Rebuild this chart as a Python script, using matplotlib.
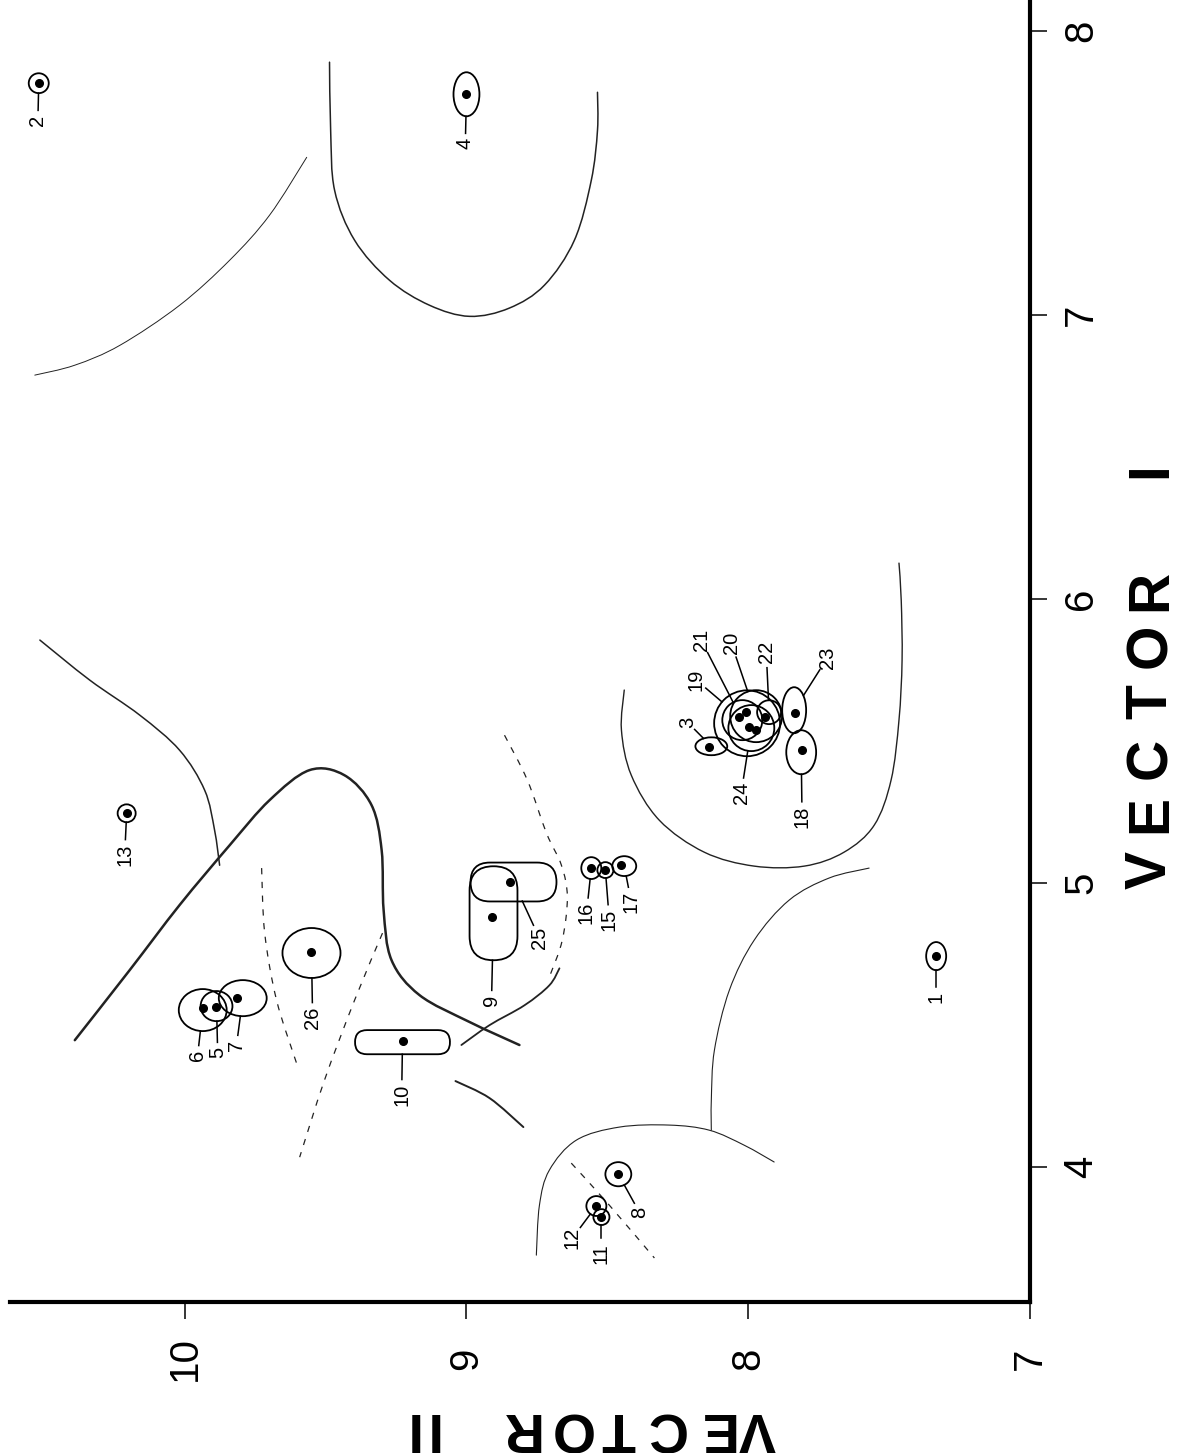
import numpy as np
import matplotlib
matplotlib.use("Agg")
import matplotlib.pyplot as plt
from matplotlib.patches import Ellipse, FancyBboxPatch, PathPatch
from matplotlib.path import Path

plt.rcParams['font.family'] = ['Liberation Sans', 'DejaVu Sans']

# -----------------------------
# points: (Vector II, Vector I)
# -----------------------------
point_ids = ["1", "2", "3", "4", "5", "6", "7", "8", "9", "10", "11", "12", "13",
             "15", "16", "17", "18", "19", "20", "21", "22", "23", "24", "25", "26"]
vector_ii = [7.333, 10.518, 8.138, 9.000, 9.890, 9.936, 9.816, 8.461, 8.911, 9.227,
             8.521, 8.539, 10.206, 8.507, 8.557, 8.450, 7.809, 7.996, 8.007, 8.032,
             7.940, 7.833, 7.972, 8.844, 9.550]
vector_i = [4.743, 7.817, 5.479, 7.778, 4.563, 4.560, 4.595, 3.975, 4.880, 4.444,
            3.824, 3.863, 5.246, 5.046, 5.053, 5.063, 5.468, 5.549, 5.602, 5.585,
            5.585, 5.599, 5.539, 5.004, 4.757]

# ring around each point (centre, width, height, shape)
ring_ii = [7.333, 10.518, 8.131, 9.000, 9.887, 9.936, 9.794, 8.461, 8.904, 9.227,
           8.521, 8.539, 10.206, 8.507, 8.557, 8.440, 7.812, 8.004, 7.972, 8.021,
           7.926, 7.837, 7.989, 8.833, 9.550]
ring_i = [4.743, 7.817, 5.482, 7.778, 4.567, 4.553, 4.595, 3.975, 4.894, 4.440,
          3.824, 3.863, 5.246, 5.046, 5.053, 5.060, 5.461, 5.563, 5.588, 5.574,
          5.602, 5.609, 5.546, 5.004, 4.754]
ring_w = [0.071, 0.071, 0.113, 0.092, 0.113, 0.170, 0.170, 0.092, 0.170, 0.337,
          0.057, 0.071, 0.064, 0.057, 0.071, 0.085, 0.106, 0.234, 0.184, 0.142,
          0.085, 0.085, 0.163, 0.305, 0.206]
ring_h = [0.099, 0.070, 0.063, 0.155, 0.106, 0.148, 0.127, 0.085, 0.331, 0.085,
          0.056, 0.070, 0.063, 0.056, 0.077, 0.070, 0.155, 0.232, 0.183, 0.141,
          0.084, 0.162, 0.162, 0.137, 0.176]
ring_shape = ["e", "e", "e", "e", "e", "e", "e", "e", "s", "s",
              "e", "e", "e", "e", "e", "e", "e", "e", "e", "e",
              "e", "e", "e", "s", "e"]

# label positions
label_ii = [7.333, 10.521, 8.216, 9.004, 9.883, 9.954, 9.816, 8.387, 8.911, 9.230,
            8.521, 8.624, 10.213, 8.493, 8.574, 8.415, 7.809, 8.184, 8.060, 8.167,
            7.936, 7.720, 8.025, 8.741, 9.546]
label_i = [4.599, 7.687, 5.567, 7.606, 4.405, 4.394, 4.430, 3.842, 4.588, 4.254,
           3.697, 3.750, 5.099, 4.870, 4.894, 4.933, 5.232, 5.715, 5.845, 5.856,
           5.813, 5.792, 5.317, 4.806, 4.525]

# -----------------------------
# boundary curves: (Vector II, Vector I)
# -----------------------------
curve_a = [(9.567, 7.556), (9.699, 7.352), (9.840, 7.194), (10.018, 7.035),
           (10.230, 6.894), (10.390, 6.824), (10.532, 6.789)]
curve_b = [(9.486, 7.891), (9.482, 7.651), (9.468, 7.440), (9.397, 7.264),
           (9.273, 7.123), (9.131, 7.035), (8.989, 6.996), (8.848, 7.025),
           (8.723, 7.106), (8.617, 7.264), (8.557, 7.475), (8.535, 7.651),
           (8.535, 7.785)]
curve_c = [(10.514, 5.856), (10.337, 5.715), (10.160, 5.592), (10.018, 5.468),
           (9.929, 5.327), (9.894, 5.187), (9.876, 5.063)]
curve_d = [(10.390, 4.447), (10.195, 4.694), (10.018, 4.923), (9.840, 5.134),
           (9.699, 5.292), (9.557, 5.398), (9.433, 5.380), (9.337, 5.275),
           (9.301, 5.116), (9.294, 4.905), (9.266, 4.729), (9.167, 4.606),
           (8.989, 4.511), (8.812, 4.430)]
curve_e = [(9.018, 4.430), (8.918, 4.500), (8.794, 4.570), (8.706, 4.640),
           (8.670, 4.700)]
curve_j = [(8.752, 3.690), (8.741, 3.866), (8.706, 3.989), (8.610, 4.095),
           (8.457, 4.141), (8.280, 4.148), (8.138, 4.130), (8.014, 4.077),
           (7.908, 4.018)]
curve_k = [(9.039, 4.303), (8.918, 4.243), (8.798, 4.141)]
curve_l = [(7.571, 5.053), (7.713, 5.018), (7.855, 4.940), (7.979, 4.799),
           (8.067, 4.623), (8.120, 4.412), (8.131, 4.236), (8.131, 4.130)]
curve_m = [(8.440, 5.680), (8.450, 5.539), (8.415, 5.380), (8.316, 5.222),
           (8.156, 5.109), (7.979, 5.060), (7.801, 5.060), (7.660, 5.109),
           (7.553, 5.204), (7.493, 5.363), (7.465, 5.574), (7.454, 5.785),
           (7.457, 5.996), (7.465, 6.127)]
dashed_f = [(8.865, 5.521), (8.784, 5.363), (8.716, 5.176), (8.663, 5.063),
            (8.642, 4.951), (8.660, 4.799), (8.706, 4.669)]
dashed_g = [(9.727, 5.053), (9.716, 4.824), (9.674, 4.588), (9.603, 4.366)]
dashed_h = [(9.298, 4.824), (9.397, 4.588), (9.504, 4.306), (9.592, 4.035)]
dashed_i = [(8.628, 4.014), (8.493, 3.866), (8.333, 3.680)]

vi_ticks = [4, 5, 6, 7, 8]
vii_ticks = [7, 8, 9, 10]


def smooth_path(pts):
    # bezier path passing through the read points
    p = np.array(pts, dtype=float)
    verts = [p[0]]
    codes = [Path.MOVETO]
    for i in range(len(p) - 1):
        p0 = p[i - 1] if i > 0 else p[i]
        p1, p2 = p[i], p[i + 1]
        p3 = p[i + 2] if i + 2 < len(p) else p[i + 1]
        verts += [p1 + (p2 - p0) / 6, p2 - (p3 - p1) / 6, p2]
        codes += [Path.CURVE4] * 3
    return Path(verts, codes)


W, H = 1183, 1453
fig = plt.figure(figsize=(W / 100, H / 100), dpi=100)
ax = fig.add_axes([10 / W, 1 - 1302 / H, 1020 / W, 1302 / H])
ax.set_xlim(10.62, 7.0)
ax.set_ylim(3.525, 8.11)

for s in ["left", "top"]:
    ax.spines[s].set_visible(False)
for s in ["right", "bottom"]:
    ax.spines[s].set_linewidth(3)
ax.yaxis.tick_right()
ax.xaxis.tick_bottom()
ax.set_xticks(vii_ticks)
ax.set_xticklabels([str(t) for t in vii_ticks])
ax.set_yticks(vi_ticks)
ax.set_yticklabels([str(t) for t in vi_ticks])
ax.tick_params(axis="y", direction="out", length=12, width=1.1, pad=11,
               labelsize=29, labelrotation=90)
ax.tick_params(axis="x", direction="out", length=12, width=1.1, pad=29,
               labelsize=29, labelrotation=90)
for lab in ax.get_yticklabels():
    lab.set_va("center")
    lab.set_ha("left")
for lab in ax.get_xticklabels():
    lab.set_va("center")
    lab.set_ha("center")

# boundaries
for c, lw in [(curve_a, 0.7), (curve_b, 1.1), (curve_c, 1.1), (curve_d, 1.8),
              (curve_e, 1.3), (curve_j, 0.8), (curve_k, 1.4), (curve_l, 0.8),
              (curve_m, 1.0)]:
    ax.add_patch(PathPatch(smooth_path(c), fill=False, ec="#222222", lw=lw,
                           capstyle="round"))
for c in [dashed_f, dashed_g, dashed_h, dashed_i]:
    ax.add_patch(PathPatch(smooth_path(c), fill=False, ec="#222222", lw=0.9,
                           linestyle=(0, (5, 6))))

# rings
for cx, cy, w, h, sh in zip(ring_ii, ring_i, ring_w, ring_h, ring_shape):
    if sh == "s":
        r = min(w, h) / 2
        p = FancyBboxPatch((cx - w / 2, cy - h / 2), w, h,
                           boxstyle=f"round,pad=0,rounding_size={r}",
                           fill=False, ec="black", lw=1.3)
    else:
        p = Ellipse((cx, cy), w, h, fill=False, ec="black", lw=1.3)
    ax.add_patch(p)

ax.plot(vector_ii, vector_i, "o", ms=5.5, color="black")

# labels and leader lines
for pid, cx, cy, w, h, lx, ly in zip(point_ids, ring_ii, ring_i, ring_w, ring_h,
                                     label_ii, label_i):
    dx, dy = lx - cx, ly - cy
    n = np.hypot(dx, dy)
    dx, dy = dx / n, dy / n
    t_ring = 1 / np.sqrt((dx / (w / 2)) ** 2 + (dy / (h / 2)) ** 2)
    hx = 11 / 283
    hy = (5.7 * len(pid) + 4) / 283
    t_lab = 1 / np.sqrt((dx / hx) ** 2 + (dy / hy) ** 2)
    x0, y0 = cx + dx * t_ring, cy + dy * t_ring
    x1, y1 = lx - dx * t_lab, ly - dy * t_lab
    ax.plot([x0, x1], [y0, y1], color="black", lw=1.1)
    ax.text(lx, ly, pid, rotation=90, ha="center", va="center", fontsize=14.5)

# axis titles, letter-spaced as in the original
title_i = ["V", "E", "C", "T", "O", "R", "I"]
title_i_y = [870, 814, 758, 702, 646, 590, 470]
for ch, py in zip(title_i, title_i_y):
    fig.text(1151 / W, 1 - py / H, ch, rotation=90, ha="center", va="center",
             fontsize=41, fontweight="bold")

title_ii = ["V", "E", "C", "T", "O", "R", "I", "I"]
title_ii_x = [757, 715, 665, 618, 570, 518, 430, 410]
for ch, px in zip(title_ii, title_ii_x):
    fig.text(px / W, 1 - 1427 / H, ch, rotation=180, ha="center", va="center",
             fontsize=40, fontweight="bold")

fig.savefig("out.png", dpi=100, facecolor="white")
